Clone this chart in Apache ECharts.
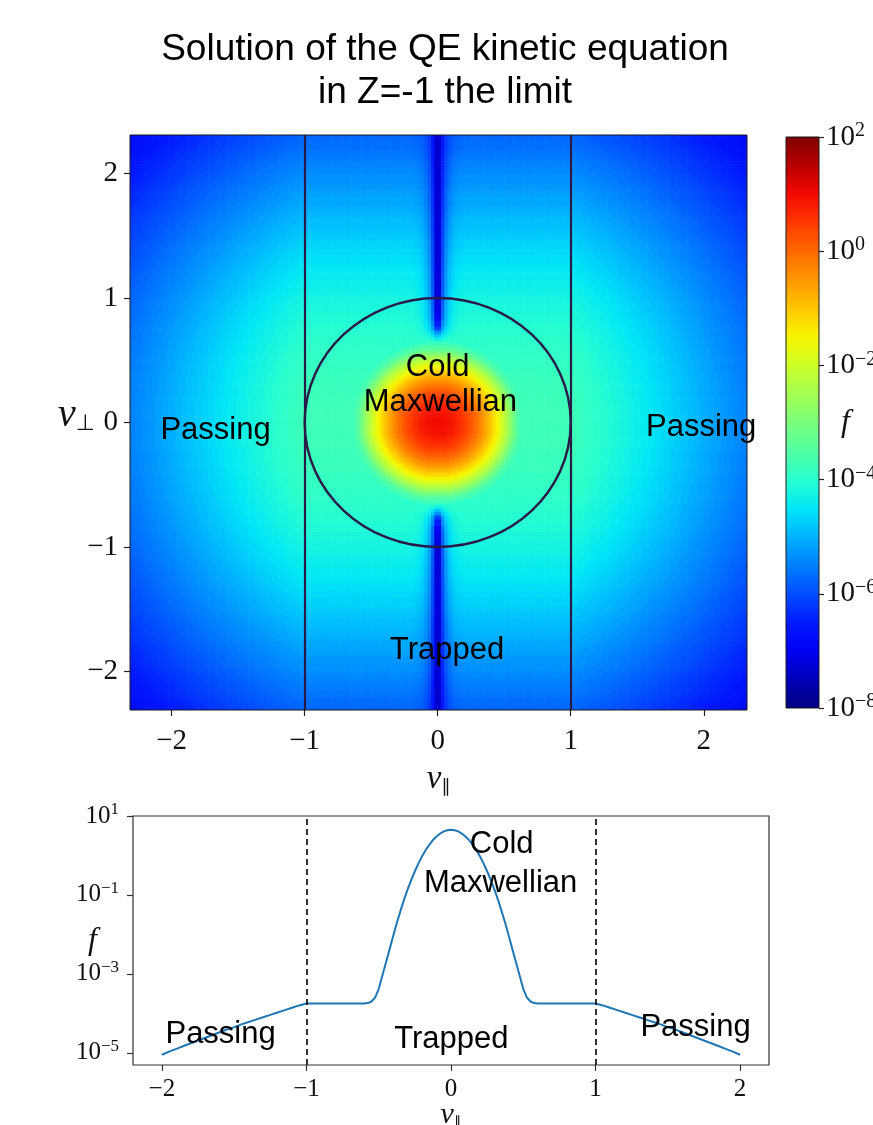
<!DOCTYPE html>
<html>
<head>
<meta charset="utf-8">
<script src="https://cdn.jsdelivr.net/npm/echarts@6/dist/echarts.min.js"></script>
<style>
  html, body { margin: 0; padding: 0; background: #ffffff; }
  #chart { width: 873px; height: 1125px; }
</style>
</head>
<body>
<div id="chart"></div>
<script>
// ---------------------------------------------------------------------------
// Distribution function along v_perp = 0, stored as log10 f
// ---------------------------------------------------------------------------
const vPar = [
  -2.0, -1.95, -1.9, -1.85, -1.8, -1.75, -1.7, -1.65, -1.6, -1.55, -1.5,
  -1.45, -1.4, -1.35, -1.3, -1.25, -1.2, -1.15, -1.1, -1.05, -1.0,
  -0.95, -0.9, -0.85, -0.8, -0.75, -0.7, -0.65, -0.6,
  -0.575, -0.55, -0.525, -0.5, -0.475, -0.45, -0.425, -0.4, -0.375, -0.35,
  -0.325, -0.3, -0.275, -0.25, -0.225, -0.2, -0.175, -0.15, -0.125, -0.1,
  -0.075, -0.05, -0.025,
  0,
  0.025, 0.05, 0.075, 0.1, 0.125, 0.15, 0.175, 0.2, 0.225, 0.25, 0.275,
  0.3, 0.325, 0.35, 0.375, 0.4, 0.425, 0.45, 0.475, 0.5, 0.525, 0.55, 0.575,
  0.6, 0.65, 0.7, 0.75, 0.8, 0.85, 0.9, 0.95,
  1.0, 1.05, 1.1, 1.15, 1.2, 1.25, 1.3, 1.35, 1.4, 1.45, 1.5,
  1.55, 1.6, 1.65, 1.7, 1.75, 1.8, 1.85, 1.9, 1.95, 2.0
];
const logF = [
  -5.05, -4.97, -4.90, -4.83, -4.76, -4.69, -4.62, -4.55, -4.48, -4.41, -4.35,
  -4.28, -4.22, -4.16, -4.10, -4.04, -3.98, -3.92, -3.86, -3.80, -3.75,
  -3.75, -3.75, -3.75, -3.75, -3.75, -3.75, -3.75, -3.75,
  -3.74, -3.70, -3.60, -3.38, -3.05, -2.71, -2.38, -2.04, -1.71, -1.41,
  -1.12, -0.86, -0.62, -0.40, -0.20, -0.02, 0.14, 0.27, 0.39, 0.48,
  0.555, 0.61, 0.64,
  0.65,
  0.64, 0.61, 0.555, 0.48, 0.39, 0.27, 0.14, -0.02, -0.20, -0.40, -0.62,
  -0.86, -1.12, -1.41, -1.71, -2.04, -2.38, -2.71, -3.05, -3.38, -3.60, -3.70, -3.74,
  -3.75, -3.75, -3.75, -3.75, -3.75, -3.75, -3.75, -3.75,
  -3.75, -3.80, -3.86, -3.92, -3.98, -4.04, -4.10, -4.16, -4.22, -4.28, -4.35,
  -4.41, -4.48, -4.55, -4.62, -4.69, -4.76, -4.83, -4.90, -4.97, -5.05
];

// Passing-region tail beyond |v| = 2 (corners of the map), log10 f
const tailR = [
  2.05, 2.10, 2.15, 2.20, 2.25, 2.30, 2.35, 2.40, 2.45, 2.50, 2.55, 2.60, 2.65,
  2.70, 2.75, 2.80, 2.85, 2.90, 2.95, 3.00, 3.05, 3.10, 3.15, 3.20, 3.25, 3.30
];
const tailLogF = [
  -5.12, -5.19, -5.26, -5.33, -5.40, -5.47, -5.54, -5.61, -5.68, -5.75, -5.82, -5.89, -5.96,
  -6.03, -6.10, -6.17, -6.24, -6.31, -6.38, -6.45, -6.52, -6.59, -6.66, -6.73, -6.80, -6.87
];

// Cold Maxwellian core of the 2-D map, log10 f against |v|
const coreR = [
  0, 0.0125, 0.025, 0.0375, 0.05, 0.0625, 0.075, 0.0875, 0.1, 0.1125, 0.125, 0.1375,
  0.15, 0.1625, 0.175, 0.1875, 0.2, 0.2125, 0.225, 0.2375, 0.25, 0.2625, 0.275, 0.2875,
  0.3, 0.3125, 0.325, 0.3375, 0.35, 0.3625, 0.375, 0.3875, 0.4, 0.4125, 0.425, 0.4375,
  0.45, 0.4625, 0.475, 0.4875, 0.5, 0.5125, 0.525, 0.5375, 0.55, 0.5625, 0.575, 0.5875,
  0.6, 0.6125, 0.625, 0.6375, 0.65
];
const coreLogF = [
  1.00, 1.00, 0.99, 0.98, 0.97, 0.95, 0.93, 0.91, 0.88, 0.84, 0.81, 0.77,
  0.72, 0.68, 0.62, 0.57, 0.51, 0.44, 0.38, 0.31, 0.23, 0.15, 0.07, -0.02,
  -0.11, -0.20, -0.30, -0.40, -0.51, -0.62, -0.73, -0.85, -0.97, -1.09, -1.22, -1.35,
  -1.49, -1.63, -1.78, -1.92, -2.08, -2.23, -2.39, -2.55, -2.72, -2.90, -3.08, -3.26,
  -3.42, -3.55, -3.64, -3.70, -3.73
];

// Depleted strip along v_par = 0 in the trapped region
const stripVperp = [0.65, 0.675, 0.7, 0.725, 0.75, 0.775, 0.8, 0.825, 0.85, 0.9, 1.0, 1.25, 1.5, 1.75, 2.0, 2.25, 2.5];
const stripLogF  = [-3.85, -4.3, -4.8, -5.3, -5.75, -6.15, -6.5, -6.75, -6.95, -7.1, -7.2, -7.2, -7.2, -7.25, -7.25, -7.3, -7.3];
const stripOffset = [0.0125, 0.0375, 0.0625, 0.0875, 0.1125, 0.1375, 0.1625, 0.1875, 0.2125];
const stripWeight = [1, 0.55, 0.3, 0.17, 0.09, 0.045, 0.02, 0.008, 0];

// Trapped / passing boundary: circle |v| = 1 centred at the origin
const boundaryCircle = [[0, 0, 1]];
const boundaryLines = [-1, 1];

// Ticks
const mapTicks = [-2, -1, 0, 1, 2];
const colorbarRange = [[0, -8, 2]];
const profileTicksY = [-5, -3, -1, 1];

// Region labels [v_par, v_perp, text] and [v_par, log10 f, text]
const mapNotes = [
  [0.0, 0.44, 'Cold'],
  [0.02, 0.16, 'Maxwellian'],
  [-1.67, -0.06, 'Passing'],
  [1.98, -0.04, 'Passing'],
  [0.07, -1.835, 'Trapped']
];
const profileNotes = [
  [0.351, 0.27, 'Cold'],
  [0.343, -0.70, 'Maxwellian'],
  [-1.594, -4.53, 'Passing'],
  [0.002, -4.66, 'Trapped'],
  [1.692, -4.365, 'Passing']
];

// ---------------------------------------------------------------------------
const SERIF = "'Liberation Serif', 'DejaVu Serif', serif";
const SANS = "'Liberation Sans', Arial, sans-serif";
const EDGE = '#2a1a48';
const JET = ['#000080', '#0000b9', '#0000f3', '#001aff', '#004dff', '#0080ff', '#00b3ff',
  '#00e6f7', '#29ffce', '#52ffa4', '#7bff7b', '#a4ff52', '#ceff29', '#f7f500',
  '#ffc600', '#ff9700', '#ff6800', '#ff3900', '#f30900', '#b90000', '#800000'];

// radial profile of the passing region: v >= 0.6 part of the cut plus the tail
const radialR = [], radialL = [];
vPar.forEach((v, i) => { if (v >= 0.6) { radialR.push(v); radialL.push(logF[i]); } });
tailR.forEach((r, i) => { radialR.push(r); radialL.push(tailLogF[i]); });

function nearest(xs, ys, x) {
  let best = 0, bd = Infinity;
  for (let k = 0; k < xs.length; k++) {
    const d = Math.abs(xs[k] - x);
    if (d < bd) { bd = d; best = k; }
  }
  return ys[best];
}

function fieldAt(x, y) {
  const ax = Math.abs(x), ay = Math.abs(y);
  const r = Math.hypot(ax, ay);
  if (ax >= 1) return nearest(radialR, radialL, r);
  // trapped: constant along v_par, equal to the value on the boundary |v_par| = 1
  let L = nearest(radialR, radialL, Math.hypot(1, ay));
  if (r <= 0.65) L = Math.max(L, nearest(coreR, coreLogF, r));
  if (ay >= 0.6375 && ax < 0.225) {
    const core = nearest(stripVperp, stripLogF, ay);
    const w = nearest(stripOffset, stripWeight, ax);
    if (core < L) L += w * (core - L);
  }
  return L;
}

// cells: 0.025 wide, split in four around the Maxwellian core
const CELL = 0.025;
const HALF = 93;
const mapCells = [];
for (let i = -HALF; i < HALF; i++) {
  const x = (i + 0.5) * CELL;
  for (let j = -HALF; j < HALF; j++) {
    const y = (j + 0.5) * CELL;
    if (Math.abs(x) < 0.75 && Math.abs(y) < 0.75) {
      for (const dx of [-0.25, 0.25]) {
        for (const dy of [-0.25, 0.25]) {
          const fx = x + dx * CELL, fy = y + dy * CELL;
          mapCells.push([fx, fy, fieldAt(fx, fy), CELL / 2]);
        }
      }
    } else {
      mapCells.push([x, y, fieldAt(x, y), CELL]);
    }
  }
}

const minus = v => (v < 0 ? '\u2212' + (-v) : String(v));
const powLabel = v => '{b|10}{s|' + minus(v) + '}';

const chart = echarts.init(document.getElementById('chart'), null, { renderer: 'canvas' });

const noteLabel = {
  show: true, position: 'inside', formatter: '{b}', fontFamily: SANS, fontSize: 31,
  color: '#000', textBorderWidth: 0, textShadowBlur: 0, opacity: 1
};

chart.setOption({
  animation: false,
  backgroundColor: '#ffffff',
  textStyle: { fontFamily: SANS },
  title: {
    text: 'Solution of the QE kinetic equation\nin Z=-1 the limit',
    left: 440, top: 23, textAlign: 'center',
    textStyle: { fontFamily: SANS, fontSize: 37, fontWeight: 'normal', color: '#000', lineHeight: 43 }
  },
  grid: [
    { left: 130, top: 135, width: 617, height: 575, show: true, z: 10,
      backgroundColor: 'transparent', borderColor: '#1a1a1a', borderWidth: 1,
      containLabel: false, outerBoundsMode: 'none' },
    { left: 786, top: 137, width: 33, height: 571, show: true, z: 10,
      backgroundColor: 'transparent', borderColor: '#1a1a1a', borderWidth: 1,
      containLabel: false, outerBoundsMode: 'none' },
    { left: 133, top: 816, width: 636, height: 249, show: true, z: 10,
      backgroundColor: 'transparent', borderColor: '#333', borderWidth: 1.2,
      containLabel: false, outerBoundsMode: 'none' }
  ],
  xAxis: [
    { gridIndex: 0, type: 'value', min: -2.313, max: 2.325, position: 'bottom',
      axisLine: { show: false, onZero: false }, splitLine: { show: false },
      axisTick: { show: true, length: 6, lineStyle: { color: '#222', width: 1.2 }, customValues: mapTicks },
      axisLabel: { customValues: mapTicks, formatter: minus, fontFamily: SERIF, fontSize: 29, color: '#111', margin: 17 },
      name: '{v|v}{s|\u2225}', nameLocation: 'middle', nameGap: 52, nameMoveOverlap: false,
      nameTextStyle: { rich: {
        v: { fontFamily: SERIF, fontStyle: 'italic', fontSize: 33, lineHeight: 34, color: '#111' },
        s: { fontFamily: "'DejaVu Sans', sans-serif", fontSize: 18, lineHeight: 20, verticalAlign: 'bottom', color: '#111' }
      } } },
    { gridIndex: 1, type: 'value', min: 0, max: 1, show: false },
    { gridIndex: 2, type: 'value', min: -2.2, max: 2.2, position: 'bottom',
      axisLine: { show: false, onZero: false }, splitLine: { show: false },
      axisTick: { show: true, length: 6, lineStyle: { color: '#333', width: 1.2 }, customValues: mapTicks },
      axisLabel: { customValues: mapTicks, formatter: minus, fontFamily: SERIF, fontSize: 25, color: '#111', margin: 12 },
      name: '{v|v}{s|\u2225}', nameLocation: 'middle', nameGap: 34, nameMoveOverlap: false,
      nameTextStyle: { rich: {
        v: { fontFamily: SERIF, fontStyle: 'italic', fontSize: 30, lineHeight: 32, color: '#111' },
        s: { fontFamily: "'DejaVu Sans', sans-serif", fontSize: 15, lineHeight: 18, verticalAlign: 'bottom', color: '#111' }
      } } }
  ],
  yAxis: [
    { gridIndex: 0, type: 'value', min: -2.31, max: 2.31, position: 'left',
      axisLine: { show: false, onZero: false }, splitLine: { show: false },
      axisTick: { show: true, length: 6, lineStyle: { color: '#222', width: 1.2 }, customValues: mapTicks },
      axisLabel: { customValues: mapTicks, formatter: minus, fontFamily: SERIF, fontSize: 29, color: '#111', margin: 12 },
      name: '{v|v}{s|\u22a5}', nameLocation: 'middle', nameRotate: 0, nameGap: 35, nameMoveOverlap: false,
      nameTextStyle: { padding: [0, 0, 14, 0], rich: {
        v: { fontFamily: SERIF, fontStyle: 'italic', fontSize: 40, lineHeight: 40, color: '#111' },
        s: { fontFamily: "'DejaVu Sans', sans-serif", fontSize: 22, lineHeight: 24, verticalAlign: 'bottom', color: '#111' }
      } } },
    { gridIndex: 1, type: 'value', min: -8, max: 2, interval: 2, position: 'right',
      axisLine: { show: false, onZero: false }, splitLine: { show: false },
      axisTick: { show: true, length: 5, lineStyle: { color: '#222', width: 1.2 } },
      axisLabel: { formatter: powLabel, margin: 7, color: '#111',
        rich: {
          b: { fontFamily: SERIF, fontSize: 29, lineHeight: 32, color: '#111' },
          s: { fontFamily: SERIF, fontSize: 20, lineHeight: 18, verticalAlign: 'top', color: '#111' }
        } },
      name: 'f', nameLocation: 'middle', nameRotate: 0, nameGap: 22, nameMoveOverlap: false,
      nameTextStyle: { fontFamily: SERIF, fontStyle: 'italic', fontSize: 32, color: '#111' } },
    { gridIndex: 2, type: 'value', min: -5.31, max: 1.0, position: 'left',
      axisLine: { show: false, onZero: false }, splitLine: { show: false },
      axisTick: { show: true, length: 6, lineStyle: { color: '#333', width: 1.2 }, customValues: profileTicksY },
      axisLabel: { customValues: profileTicksY, formatter: powLabel, margin: 14, color: '#111',
        rich: {
          b: { fontFamily: SERIF, fontSize: 25, lineHeight: 30, color: '#111' },
          s: { fontFamily: SERIF, fontSize: 17, lineHeight: 16, verticalAlign: 'top', color: '#111' }
        } },
      name: 'f', nameLocation: 'middle', nameRotate: 0, nameGap: 36, nameMoveOverlap: false,
      nameTextStyle: { fontFamily: SERIF, fontStyle: 'italic', fontSize: 32, color: '#111' } }
  ],
  visualMap: {
    type: 'continuous', show: false, min: -8, max: 2, dimension: 2, seriesIndex: 0,
    inRange: { color: JET }
  },
  series: [
    // 2-D map of log10 f
    { type: 'custom', xAxisIndex: 0, yAxisIndex: 0, z: 1, silent: true, clip: true,
      progressive: 0, progressiveThreshold: 1e9,
      encode: { x: 0, y: 1 },
      data: mapCells,
      renderItem: (params, api) => {
        const c = api.coord([api.value(0), api.value(1)]);
        const w = api.value(3);
        const s = api.size([w, w]);
        return { type: 'rect',
          shape: { x: c[0] - s[0] / 2, y: c[1] - s[1] / 2, width: s[0] + 0.6, height: s[1] + 0.6 },
          style: { fill: api.visual('color') } };
      } },
    // |v| = 1 circle
    { type: 'custom', xAxisIndex: 0, yAxisIndex: 0, z: 4, silent: true,
      data: boundaryCircle,
      renderItem: (params, api) => {
        const c = api.coord([api.value(0), api.value(1)]);
        const s = api.size([api.value(2), api.value(2)]);
        return { type: 'ellipse', shape: { cx: c[0], cy: c[1], rx: s[0], ry: s[1] },
          style: { fill: 'none', stroke: EDGE, lineWidth: 2.4 } };
      } },
    // region labels on the map, plus the |v_par| = 1 boundaries
    { type: 'scatter', xAxisIndex: 0, yAxisIndex: 0, z: 6, silent: true,
      symbolSize: 1, itemStyle: { color: 'transparent' },
      data: mapNotes.map(n => ({ value: [n[0], n[1]], name: n[2] })),
      label: noteLabel,
      markLine: { silent: true, symbol: ['none', 'none'], label: { show: false },
        lineStyle: { color: EDGE, width: 2.2, type: 'solid' },
        data: boundaryLines.map(v => ({ xAxis: v })) } },
    // colour bar
    { type: 'custom', xAxisIndex: 1, yAxisIndex: 1, z: 2, silent: true,
      data: colorbarRange,
      renderItem: (params, api) => {
        const p0 = api.coord([0, api.value(1)]);
        const p1 = api.coord([1, api.value(2)]);
        return { type: 'rect',
          shape: { x: p0[0], y: p1[1], width: p1[0] - p0[0], height: p0[1] - p1[1] },
          style: { fill: new echarts.graphic.LinearGradient(0, 1, 0, 0,
            JET.map((c, i) => ({ offset: i / (JET.length - 1), color: c }))) } };
      } },
    // cut along v_perp = 0
    { type: 'line', xAxisIndex: 2, yAxisIndex: 2, z: 3, silent: true,
      showSymbol: false, symbol: 'none',
      lineStyle: { color: '#1f77b4', width: 2 },
      data: vPar.map((v, i) => [v, logF[i]]),
      markLine: { silent: true, symbol: ['none', 'none'], label: { show: false },
        lineStyle: { color: '#000', width: 1.6, type: [6, 4] },
        data: boundaryLines.map(v => ({ xAxis: v })) } },
    { type: 'scatter', xAxisIndex: 2, yAxisIndex: 2, z: 6, silent: true,
      symbolSize: 1, itemStyle: { color: 'transparent' },
      data: profileNotes.map(n => ({ value: [n[0], n[1]], name: n[2] })),
      label: noteLabel }
  ]
});
</script>
</body>
</html>
